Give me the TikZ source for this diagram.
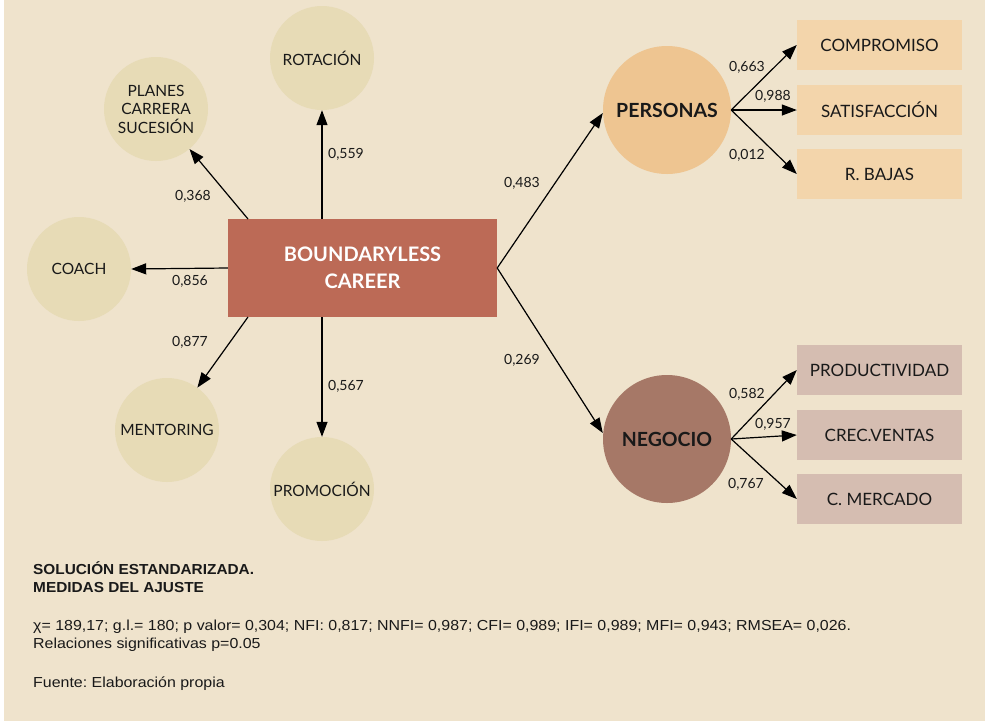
\documentclass[tikz,border=0pt]{standalone}
\usepackage{fontspec}
\setmainfont{Lato}
\newfontfamily\arialf{Liberation Sans}
\usetikzlibrary{arrows.meta,calc}
\frenchspacing
\definecolor{bgc}{HTML}{EFE3CC}
\definecolor{circc}{HTML}{E7DBB6}
\definecolor{boxc}{HTML}{BC6A56}
\definecolor{persc}{HTML}{EEC591}
\definecolor{persbox}{HTML}{F3D5AB}
\definecolor{negc}{HTML}{A67867}
\definecolor{negbox}{HTML}{D5BDB1}
\tikzset{
  ind/.style={circle, fill=circc, minimum size=104pt, inner sep=0pt, align=center,
     font=\fontsize{15.5}{18.5}\selectfont, text=black!90},
  lat/.style={circle, minimum size=128pt, inner sep=0pt,
     font=\fontsize{19.5}{22}\selectfont\bfseries, text=black!90},
  obs/.style={rectangle, minimum width=165pt, minimum height=50pt, inner sep=0pt,
     font=\fontsize{17}{20}\selectfont, text=black!90},
  arr/.style={-{Triangle[length=15pt,width=11pt]}, line width=1.2pt, black},
  wt/.style={font=\fontsize{14}{16}\selectfont, text=black!90},
  note/.style={anchor=base west, inner sep=0pt, font=\arialf\fontsize{14.5}{16}\selectfont, text=black!90}
}
\begin{document}
\begin{tikzpicture}[x=1pt,y=-1pt]
\fill[white] (0,0) rectangle (985,721);
\fill[bgc] (4,0) rectangle (985,721);
\useasboundingbox (0,0) rectangle (985,721);

% indicator circles
\node[ind] (rot) at (322,58) {ROTACIÓN};
\node[ind] (pla) at (156,109) {PLANES\\CARRERA\\SUCESIÓN};
\node[ind] (coa) at (79,269) {COACH};
\node[ind] (men) at (167,430) {MENTORING};
\node[ind] (pro) at (322,489) {PROMOCIÓN};

% central box
\node[rectangle, fill=boxc, minimum width=269pt, minimum height=98pt, inner sep=0pt,
      align=center, text=white, font=\fontsize{20}{27}\selectfont\bfseries] (bc) at (362.5,268) {BOUNDARYLESS\\CAREER};

\coordinate (bpl) at (248,219);
\coordinate (bme) at (248,317);
\draw[arr] (bc.north -| rot.south) -- (rot.south);
\draw[arr] (bpl) -- (pla);
\draw[arr] (bc.west) -- (coa.east);
\draw[arr] (bme) -- (men);
\draw[arr] (bc.south -| pro.north) -- (pro.north);

\node[wt] at (193,196) {0,368};
\node[wt] at (346,154) {0,559};
\node[wt] at (190,281) {0,856};
\node[wt] at (190,342) {0,877};
\node[wt] at (346,386) {0,567};

% latent variables
\node[lat, fill=persc] (per) at (667,110) {PERSONAS};
\node[lat, fill=negc] (neg) at (667,439) {NEGOCIO};

\draw[arr] (bc.east) -- ($(per.west)+(0,3)$);
\draw[arr] (bc.east) -- ($(neg.west)+(0,-6)$);
\node[wt] at (522,183) {0,483};
\node[wt] at (522,360) {0,269};

% observed boxes
\node[obs, fill=persbox] (com) at (879.5,45) {COMPROMISO};
\node[obs, fill=persbox] (sat) at (879.5,110) {SATISFACCIÓN};
\node[obs, fill=persbox] (rba) at (879.5,174) {R. BAJAS};
\node[obs, fill=negbox] (prd) at (879.5,370) {PRODUCTIVIDAD};
\node[obs, fill=negbox] (cre) at (879.5,435) {CREC.VENTAS};
\node[obs, fill=negbox] (cme) at (879.5,499) {C. MERCADO};

\draw[arr] (per.east) -- (com.west);
\draw[arr] (per.east) -- (sat.west);
\draw[arr] (per.east) -- (rba.west);
\draw[arr] (neg.east) -- (prd.west);
\draw[arr] (neg.east) -- (cre.west);
\draw[arr] (neg.east) -- (cme.west);

\node[wt] at (747,67) {0,663};
\node[wt] at (773,96) {0,988};
\node[wt] at (747,155) {0,012};
\node[wt] at (747,394) {0,582};
\node[wt] at (773,424) {0,957};
\node[wt] at (746,484) {0,767};

% notes
\node[note, font=\arialf\fontsize{14.5}{16}\selectfont\bfseries] (n1) at (33,574) {\scalebox{1.06}[1]{SOLUCIÓN ESTANDARIZADA.}};
\node[note, font=\arialf\fontsize{14.5}{16}\selectfont\bfseries] (n2) at (33,592) {\scalebox{1.06}[1]{MEDIDAS DEL AJUSTE}};
\node[note] (n3) at (33,630) {\scalebox{1.1}[1]{χ= 189,17; g.l.= 180; p valor= 0,304; NFI: 0,817; NNFI= 0,987; CFI= 0,989; IFI= 0,989; MFI= 0,943; RMSEA= 0,026.}};
\node[note] (n4) at (33,648) {\scalebox{1.1}[1]{Relaciones significativas p=0.05}};
\node[note] (n5) at (33,687) {\scalebox{1.1}[1]{Fuente: Elaboración propia}};
\end{tikzpicture}
\end{document}
